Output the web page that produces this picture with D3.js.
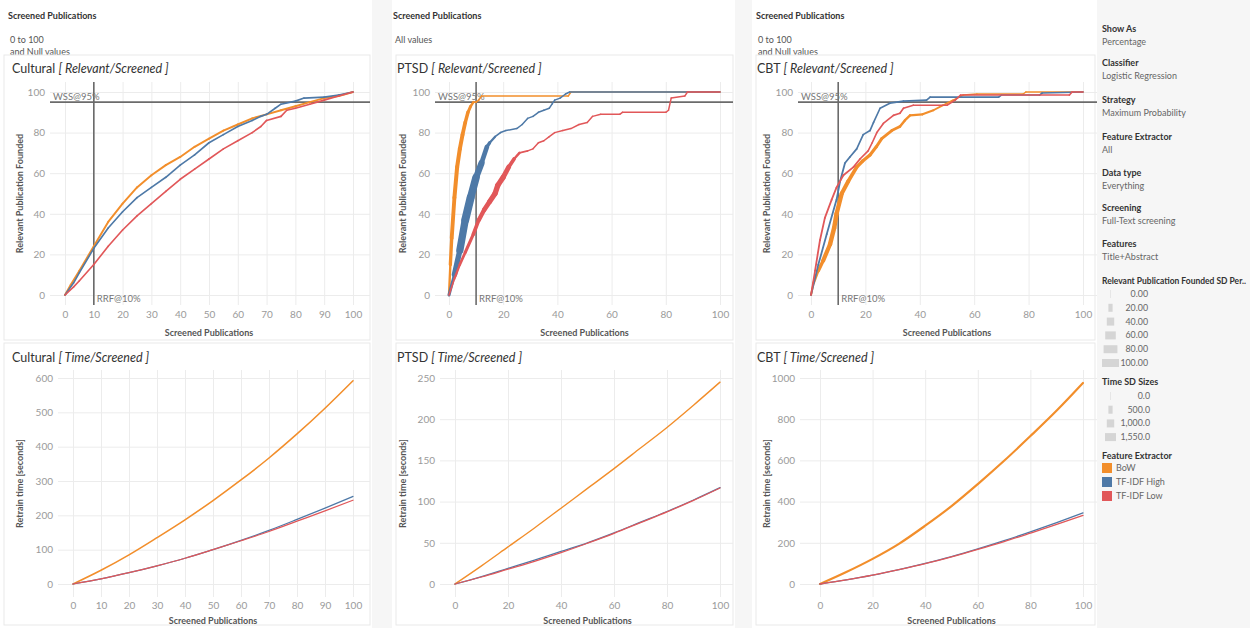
<!DOCTYPE html>
<html>
<head>
<meta charset="utf-8">
<script src="https://cdn.jsdelivr.net/npm/d3@7"></script>
<style>
  body { margin: 0; background: #fff; }
  svg text { font-family: Lato, "Open Sans", sans-serif; }
</style>
</head>
<body>
<svg id="chart" width="1250" height="628"></svg>
<script>
// ---- data ----
const datasets = ["Cultural", "PTSD", "CBT"];
const extractors = ["BoW", "TF-IDF High", "TF-IDF Low"];
const extractorColors = ["#f28e2b", "#4e79a7", "#e15759"];
const filterValues = [["0 to 100", "and Null values"], ["All values"], ["0 to 100", "and Null values"]];

// relevant found [screened %, relevant %, SD]
const culturalRelBow = [[0,0,6],[2,5,6],[5,12,6],[10,24,6],[15,36,6],[20,45,6],[25,53,6],[30,59,6],[35,64,6],[40,68,6],[45,73,6],[50,77,6],[55,81,6],[60,84,6],[65,87,6],[70,89,6],[75,91,6],[80,93,6],[85,95,6],[90,97,6],[95,98,6],[100,100,6]];
const culturalRelHigh = [[0,0,4],[3,6,4],[5,11,4],[10,23,4],[15,33,4],[20,41,4],[25,48,4],[30,53,4],[35,58,4],[40,64,4],[45,69,4],[50,75,4],[55,79,4],[60,83,4],[65,86,4],[68,88,4],[70,89,4],[73,92,4],[75,94,4],[80,95.5,4],[83,97,4],[90,97.5,4],[95,98.5,4],[100,100,4]];
const culturalRelLow = [[0,0,4],[3,4,4],[5,7,4],[10,15,4],[15,24,4],[20,32,4],[25,39,4],[30,45,4],[35,51,4],[40,57,4],[45,62,4],[50,67,4],[55,72,4],[60,76,4],[65,80,4],[68,83,4],[70,86,4],[75,88,4],[77,91,4],[80,92,4],[85,94,4],[90,96,4],[95,98,4],[100,100,4]];

const ptsdRelBow = [[0,0,5],[0.5,15,12],[1,28,17],[2,48,19],[3,63,19],[4,72,19],[5,79,18],[6,85,17],[7,90,14],[8,93,11],[9,95,7],[10,95,4],[11,96,3],[12,98,3],[44,98,3],[45,100,3],[100,100,3]];
const ptsdRelHigh = [[0,0,5],[2,10,20],[4,22,35],[6,37,44],[8,48,44],[10,58,38],[12,65,28],[14,73,18],[15,75,10],[17,78,5],[19,80,4],[21,81,3],[25,82,3],[27,84,3],[29,87,3],[31,88,3],[33,90,3],[35,91,3],[37,92,3],[38,94,3],[39,96,3],[41,97,3],[43,99,3],[44.5,100,3],[100,100,3]];
const ptsdRelLow = [[0,0,3],[2,8,6],[4,15,10],[6,21,12],[9,30,15],[11,37,19],[13,42,22],[15,46,25],[17,50,27],[18,54,28],[20,58,26],[22,63,22],[24,67,12],[26,70,6],[29,71,3],[31,72,3],[33,75,3],[35,76,3],[37,78,3],[39,80,3],[42,81,3],[45,82,3],[48,84,3],[51,85,3],[53,88,3],[56,89,3],[63,89,3],[64,90,3],[80,90,3],[81,91,3],[82,97,3],[87,98,3],[88,100,3],[100,100,3]];

const cbtRelBow = [[0,0,5],[1,6,8],[2.7,12,12],[4.5,17,18],[7,25,22],[8.5,33,22],[9.4,40,22],[11.3,50,20],[13.7,56,18],[16.8,63,16],[19,66,15],[21.7,69,14],[24,73,13],[26,77,12],[29.7,81,11],[32.7,83,10],[34.5,86,9],[36.4,88.5,8],[41,89,7],[45,91,6],[48.6,93.5,5],[52.3,96,4],[56,98.5,3],[61,99,3],[78,99,3],[79,100,3],[100,100,3]];
const cbtRelHigh = [[0,0,4],[2.7,15,5],[5.8,30,5],[9.4,47,5],[10.7,56,5],[12.5,65,5],[14.3,68,5],[16.8,72,4],[19.2,79,4],[21.7,81,4],[23,85,4],[25.4,92,4],[29,94.5,4],[34,95.5,4],[42.5,96,4],[43.8,97.5,4],[69,97.5,4],[70,98.5,4],[84,98.5,4],[85,99.5,4],[100,100,4]];
const cbtRelLow = [[0,0,4],[1.5,12,5],[3.3,27,5],[5.1,38,5],[7.6,47,5],[9.4,53,5],[11.9,59,5],[15.6,63,5],[18,67,4],[21,71,4],[22.5,75,4],[24.2,80,4],[26.6,84.5,4],[30.3,88.5,4],[32.7,89.5,4],[34,92,4],[37.6,93.5,4],[50,93.5,4],[53,96,4],[55,98.5,4],[95,98.5,4],[96,100,4],[100,100,4]];

// retrain time [screened %, seconds]
const culturalTimeBow = [[0,0],[10,40],[20,85],[30,135],[40,187],[50,243],[60,303],[70,367],[80,437],[90,512],[100,592]];
const culturalTimeHigh = [[0,0],[10,15],[20,33],[30,53],[40,75],[50,100],[60,127],[70,156],[80,188],[90,221],[100,255]];
const culturalTimeLow = [[0,0],[10,15],[20,33],[30,53],[40,75],[50,100],[60,126],[70,153],[80,183],[90,213],[100,244]];
const ptsdTimeBow = [[0,0],[10,22],[20,45],[30,68],[40,92],[50,116],[60,140],[70,165],[80,190],[90,217],[100,245]];
const ptsdTimeHigh = [[0,0],[10,9],[20,19],[30,29],[40,39.5],[50,50],[60,62],[70,75],[80,88],[90,102],[100,117]];
const ptsdTimeLow = [[0,0],[10,8.5],[20,18],[30,27.5],[40,38],[50,49.5],[60,61.5],[70,74.5],[80,87.5],[90,101.5],[100,116.5]];
const cbtTimeBow = [[0,0],[10,58],[20,122],[30,195],[40,283],[50,378],[60,485],[70,598],[80,718],[90,842],[100,976]];
const cbtTimeHigh = [[0,0],[10,20],[20,43],[30,70],[40,100],[50,133],[60,170],[70,210],[80,253],[90,298],[100,345]];
const cbtTimeLow = [[0,0],[10,20],[20,43],[30,70],[40,99],[50,132],[60,168],[70,206],[80,247],[90,289],[100,333]];
const timeSd = [[90, 40, 40], [60, 40, 40], [180, 50, 50]];

const xTicksByDataset = [d3.range(0, 101, 10), d3.range(0, 101, 20), d3.range(0, 101, 20)];
const relTicks = d3.range(0, 101, 20);
const timeTicks = [d3.range(0, 601, 100), d3.range(0, 251, 50), d3.range(0, 1001, 200)];

const filterItems = [
  ["Show As", "Percentage"],
  ["Classifier", "Logistic Regression"],
  ["Strategy", "Maximum Probability"],
  ["Feature Extractor", "All"],
  ["Data type", "Everything"],
  ["Screening", "Full-Text screening"],
  ["Features", "Title+Abstract"]
];
const relSizeLegend = [0, 20, 40, 60, 80, 100];
const timeSizeLegend = [0, 500, 1000, 1550];

const relData = [
  [culturalRelBow, culturalRelHigh, culturalRelLow],
  [ptsdRelBow, ptsdRelHigh, ptsdRelLow],
  [cbtRelBow, cbtRelHigh, cbtRelLow]
];
const timeData = [
  [culturalTimeBow, culturalTimeHigh, culturalTimeLow],
  [ptsdTimeBow, ptsdTimeHigh, ptsdTimeLow],
  [cbtTimeBow, cbtTimeHigh, cbtTimeLow]
];

// ---- layout ----
const layout = [
  { left: 0, right: 372, hdrX: 8, titleX: 12, yTitleX: 21,
    top: { x: [65, 353], plot: [50, 370] }, bottom: { x: [73, 353], plot: [58, 370] } },
  { left: 392, right: 735, hdrX: 393, titleX: 397, yTitleX: 404,
    top: { x: [449, 720], plot: [435, 733] }, bottom: { x: [455, 720], plot: [440, 733] } },
  { left: 752, right: 1097, hdrX: 756, titleX: 757, yTitleX: 768,
    top: { x: [811, 1083], plot: [798, 1097] }, bottom: { x: [820, 1083], plot: [800, 1097] } }
];

const svg = d3.select("#chart");
const relSize = d3.scaleLinear().domain([0, 100]).range([1, 17]);
const timeSize = d3.scaleLinear().domain([0, 1550]).range([1, 11]);

svg.append("rect").attr("width", 1250).attr("height", 628).attr("fill", "#ffffff");
[[372, 392], [735, 752], [1097, 1250]].forEach(([a, b]) => {
  svg.append("rect").attr("x", a).attr("y", 0).attr("width", b - a).attr("height", 628).attr("fill", "#f6f6f6");
});

function styleAxis(g) {
  g.select(".domain").remove();
  g.selectAll(".tick line").attr("stroke", "#ececec").attr("stroke-width", 1);
  g.selectAll(".tick text").attr("fill", "#9a9a9a").style("font-size", "10px");
}

function drawPanel(i, kind) {
  const col = layout[i];
  const conf = col[kind];
  const isTop = kind === "top";
  const plotTop = isTop ? 82 : 370;
  const plotBottom = isTop ? 305 : 597;
  const [plotLeft, plotRight] = conf.plot;

  const x = d3.scaleLinear().domain([0, 100]).range(conf.x);
  const yTicks = isTop ? relTicks : timeTicks[i];
  const y = d3.scaleLinear()
    .domain([0, d3.max(yTicks)])
    .range(isTop ? [295, 92] : [584, 378]);

  const g = svg.append("g");

  // title bar
  const boxTop = isTop ? 55 : 343;
  g.append("rect")
    .attr("x", col.left + 4).attr("y", boxTop)
    .attr("width", col.right - col.left - 6).attr("height", isTop ? 285 : 282)
    .attr("fill", "#fff").attr("stroke", "#e9e9e9");
  const title = g.append("text")
    .attr("x", col.titleX).attr("y", isTop ? 72.5 : 361.5)
    .attr("fill", "#333").style("font-size", "12.5px");
  title.append("tspan").text(datasets[i] + (i === 0 ? " " : "  "));
  title.append("tspan").style("font-style", "italic")
    .text(isTop ? "[ Relevant/Screened ]" : "[ Time/Screened ]");

  // grid + axes
  const gx = g.append("g")
    .attr("transform", `translate(0,${plotBottom})`)
    .call(d3.axisBottom(x).tickValues(xTicksByDataset[i]).tickSize(-(plotBottom - plotTop)));
  styleAxis(gx);
  gx.selectAll(".tick text").attr("dy", null).attr("y", isTop ? 13 : 12);

  const gy = g.append("g")
    .attr("transform", `translate(${plotLeft},0)`)
    .call(d3.axisLeft(y).tickValues(yTicks).tickFormat(d3.format("d"))
      .tickSize(-(plotRight - plotLeft)).tickPadding(5));
  styleAxis(gy);

  // axis titles
  g.append("text")
    .attr("x", (conf.x[0] + conf.x[1]) / 2).attr("y", isTop ? 336 : 624)
    .attr("text-anchor", "middle").attr("fill", "#555")
    .style("font-size", "9px").style("font-weight", "bold")
    .text("Screened Publications");
  g.append("text")
    .attr("transform", `translate(${col.yTitleX},${(plotTop + plotBottom) / 2}) rotate(-90)`)
    .attr("text-anchor", "middle").attr("dominant-baseline", "middle").attr("fill", "#555")
    .style("font-size", "9px").style("font-weight", "bold")
    .text(isTop ? "Relevant Publication Founded" : "Retrain time [seconds]");

  if (isTop) {
    // reference lines
    g.append("line")
      .attr("x1", plotLeft).attr("x2", plotRight).attr("y1", y(95)).attr("y2", y(95))
      .attr("stroke", "#6b6b6b").attr("stroke-width", 1.6);
    g.append("line")
      .attr("x1", x(10)).attr("x2", x(10)).attr("y1", plotTop).attr("y2", plotBottom)
      .attr("stroke", "#6b6b6b").attr("stroke-width", 1.6);
    g.append("text")
      .attr("x", plotLeft + 3).attr("y", y(95) - 2.5)
      .attr("fill", "#777").style("font-size", "9.5px").text("WSS@95%");
    g.append("text")
      .attr("x", x(10) + 3).attr("y", plotBottom - 3.5)
      .attr("fill", "#777").style("font-size", "9.5px").text("RRF@10%");

    // variable width lines
    relData[i].forEach((series, s) => {
      const segs = d3.pairs(series);
      g.append("g").selectAll("line")
        .data(segs)
        .enter()
        .append("line")
        .attr("x1", d => x(d[0][0])).attr("y1", d => y(d[0][1]))
        .attr("x2", d => x(d[1][0])).attr("y2", d => y(d[1][1]))
        .attr("stroke", extractorColors[s])
        .attr("stroke-width", d => relSize((d[0][2] + d[1][2]) / 2))
        .attr("stroke-linecap", "round");
    });
  } else {
    const line = d3.line().x(d => x(d[0])).y(d => y(d[1])).curve(d3.curveMonotoneX);
    timeData[i].forEach((series, s) => {
      g.append("path")
        .datum(series)
        .attr("d", line)
        .attr("fill", "none")
        .attr("stroke", extractorColors[s])
        .attr("stroke-width", timeSize(timeSd[i][s]))
        .attr("stroke-linecap", "round");
    });
  }
}

datasets.forEach((name, i) => {
  const col = layout[i];
  svg.append("text")
    .attr("x", col.hdrX).attr("y", 19)
    .attr("fill", "#333").style("font-size", "9px").style("font-weight", "bold")
    .text("Screened Publications");
  filterValues[i].forEach((t, k) => {
    svg.append("text")
      .attr("x", col.hdrX + 2).attr("y", 43 + k * 12)
      .attr("fill", "#555").style("font-size", "9px")
      .text(t);
  });
  drawPanel(i, "top");
  drawPanel(i, "bottom");
});

// ---- right-hand legend ----
const lg = svg.append("g");
const legendX = 1102;
const filterY = [32, 66, 103, 140, 176, 211, 247];
filterItems.forEach((item, k) => {
  lg.append("text").attr("x", legendX).attr("y", filterY[k])
    .attr("fill", "#333").style("font-size", "9px").style("font-weight", "bold").text(item[0]);
  lg.append("text").attr("x", legendX).attr("y", filterY[k] + 12.5)
    .attr("fill", "#666").style("font-size", "9px").text(item[1]);
});

lg.append("text").attr("x", legendX).attr("y", 284)
  .attr("fill", "#333").style("font-size", "8.6px").style("font-weight", "bold")
  .attr("textLength", 144).attr("lengthAdjust", "spacingAndGlyphs")
  .text("Relevant Publication Founded SD Per..");
relSizeLegend.forEach((v, k) => {
  const cy = 294 + k * 13.8;
  const w = relSize(v);
  lg.append("rect").attr("x", 1110.5 - w / 2).attr("y", cy - 4).attr("width", w).attr("height", 8)
    .attr("fill", v === 0 ? "#e6e6e6" : "#d5d5d5");
  lg.append("text").attr("x", 1148).attr("y", cy + 3).attr("text-anchor", "end")
    .attr("fill", "#666").style("font-size", "8.8px").text(d3.format(".2f")(v));
});

lg.append("text").attr("x", legendX).attr("y", 385)
  .attr("fill", "#333").style("font-size", "9px").style("font-weight", "bold")
  .text("Time SD Sizes");
timeSizeLegend.forEach((v, k) => {
  const cy = 396 + k * 13.7;
  const w = timeSize(v);
  lg.append("rect").attr("x", 1110.5 - w / 2).attr("y", cy - 4).attr("width", w).attr("height", 8)
    .attr("fill", v === 0 ? "#e6e6e6" : "#d5d5d5");
  lg.append("text").attr("x", 1150).attr("y", cy + 3).attr("text-anchor", "end")
    .attr("fill", "#666").style("font-size", "8.8px").text(d3.format(",.1f")(v));
});

lg.append("text").attr("x", legendX).attr("y", 459)
  .attr("fill", "#333").style("font-size", "9px").style("font-weight", "bold")
  .text("Feature Extractor");
extractors.forEach((name, k) => {
  const cy = 468 + k * 14;
  lg.append("rect").attr("x", legendX).attr("y", cy - 5).attr("width", 10).attr("height", 10)
    .attr("fill", extractorColors[k]);
  lg.append("text").attr("x", 1116).attr("y", cy + 3)
    .attr("fill", "#666").style("font-size", "9px").text(name);
});
</script>
</body>
</html>
